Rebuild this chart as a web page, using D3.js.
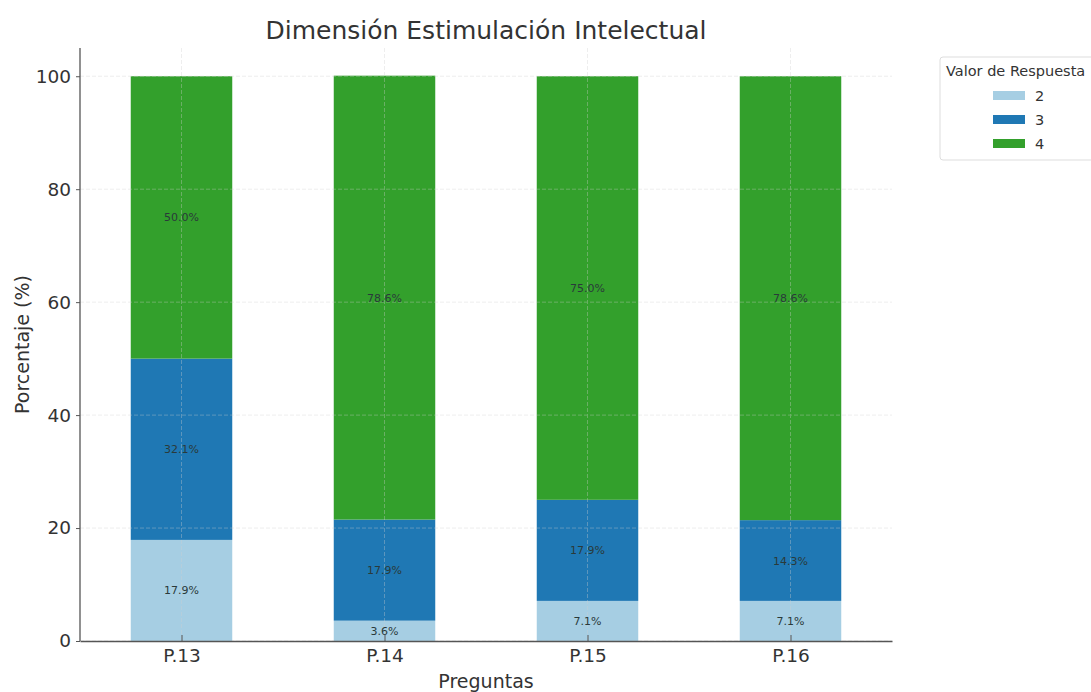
<!DOCTYPE html>
<html>
<head>
<meta charset="utf-8">
<script src="https://cdn.jsdelivr.net/npm/d3@7"></script>
<style>
body{margin:0;background:#fff;}
text{font-family:"DejaVu Sans",sans-serif;}
</style>
</head>
<body>
<div id="chart"></div>
<script>
var preguntas=["P.13","P.14","P.15","P.16"];
var respuestas=["2","3","4"];
var valor2=[17.9,3.6,7.1,7.1];
var valor3=[32.1,17.9,17.9,14.3];
var valor4=[50.0,78.6,75.0,78.6];
var colores=["#a6cee3","#1f78b4","#33a02c"];
var yTicks=[0,20,40,60,80,100];

var svgW=1091, svgH=692;
var margin={top:48,left:80,right:199,bottom:51};
var chartW=svgW-margin.left-margin.right;
var chartH=svgH-margin.top-margin.bottom;

var svg=d3.select('#chart').append('svg')
    .attr('width',svgW)
    .attr('height',svgH);

var chart=svg.append('g')
    .attr('transform',`translate(${margin.left},${margin.top})`);

// rows for the stack
var rows=preguntas.map(function(p,i){
    return {p:p,"2":valor2[i],"3":valor3[i],"4":valor4[i]};
});
var stack=d3.stack().keys(respuestas)(rows);

var xscale=d3.scaleLinear().domain([-0.5,3.5]).range([0,chartW]);
var yscale=d3.scaleLinear().domain([0,105]).range([chartH,0]);
var barW=xscale(0.5)-xscale(0);

// bars
stack.forEach(function(s,k){
    chart.append('g').selectAll('rect')
        .data(s)
        .enter()
        .append('rect')
        .attr('x',function(d,i){return xscale(i)-barW/2;})
        .attr('width',barW)
        .attr('y',function(d){return yscale(d[1]);})
        .attr('height',function(d){return yscale(d[0])-yscale(d[1]);})
        .attr('fill',colores[k]);
});

// grid above bars, faint dashed
var grid=chart.append('g').attr('opacity',0.35);
grid.selectAll('.gy').data(yTicks).enter().append('line')
    .attr('x1',0).attr('x2',chartW)
    .attr('y1',function(d){return yscale(d);})
    .attr('y2',function(d){return yscale(d);})
    .attr('stroke','#d0d0d0').attr('stroke-dasharray','4,2');
grid.selectAll('.gx').data(preguntas).enter().append('line')
    .attr('x1',function(d,i){return xscale(i);})
    .attr('x2',function(d,i){return xscale(i);})
    .attr('y1',0).attr('y2',chartH)
    .attr('stroke','#d0d0d0').attr('stroke-dasharray','4,2');

// segment labels
stack.forEach(function(s){
    chart.append('g').selectAll('text')
        .data(s)
        .enter()
        .append('text')
        .attr('x',function(d,i){return xscale(i);})
        .attr('y',function(d){return yscale((d[0]+d[1])/2)+4;})
        .attr('text-anchor','middle')
        .attr('font-size',11)
        .attr('fill','#2a3a3a')
        .text(function(d){return (d[1]-d[0]).toFixed(1)+'%';});
});

// axes
var xaxis=d3.axisBottom(xscale)
    .tickValues([0,1,2,3])
    .tickFormat(function(d){return preguntas[d];})
    .tickSizeInner(-6).tickSizeOuter(0).tickPadding(8);
var yaxis=d3.axisLeft(yscale)
    .tickValues(yTicks).tickSizeOuter(0).tickSize(4).tickPadding(5);

var x_obj=chart.append('g')
    .attr('transform',`translate(0,${chartH})`)
    .call(xaxis);
var y_obj=chart.append('g').call(yaxis);
[x_obj,y_obj].forEach(function(a){
    a.select('.domain').attr('stroke','#555').attr('stroke-width',1.3);
    a.selectAll('.tick line').attr('stroke','#555');
    a.selectAll('.tick text').attr('font-size',18.5).attr('fill','#333');
});
y_obj.select('.domain').attr('d',`M0,0V${chartH}`);

// titles
svg.append('text')
    .attr('x',margin.left+chartW/2).attr('y',39)
    .attr('text-anchor','middle')
    .attr('font-size',25).attr('fill','#333')
    .text('Dimensión Estimulación Intelectual');
svg.append('text')
    .attr('x',margin.left+chartW/2).attr('y',688)
    .attr('text-anchor','middle')
    .attr('font-size',19).attr('fill','#333')
    .text('Preguntas');
svg.append('text')
    .attr('transform',`translate(29,${margin.top+chartH/2}) rotate(-90)`)
    .attr('text-anchor','middle')
    .attr('font-size',19).attr('fill','#333')
    .text('Porcentaje (%)');

// legend
var leg=svg.append('g').attr('transform','translate(940,57)');
leg.append('rect')
    .attr('x',0).attr('y',0).attr('width',170).attr('height',103).attr('rx',3)
    .attr('fill','#fff').attr('stroke','#ddd');
leg.append('text')
    .attr('x',6).attr('y',19)
    .attr('font-size',14.5).attr('fill','#333')
    .text('Valor de Respuesta');
respuestas.forEach(function(r,i){
    var g=leg.append('g').attr('transform',`translate(0,${39+i*24})`);
    g.append('rect').attr('x',53).attr('y',-5).attr('width',32).attr('height',9).attr('fill',colores[i]);
    g.append('text').attr('x',95).attr('y',5).attr('font-size',14.5).attr('fill','#333').text(r);
});
</script>
</body>
</html>
